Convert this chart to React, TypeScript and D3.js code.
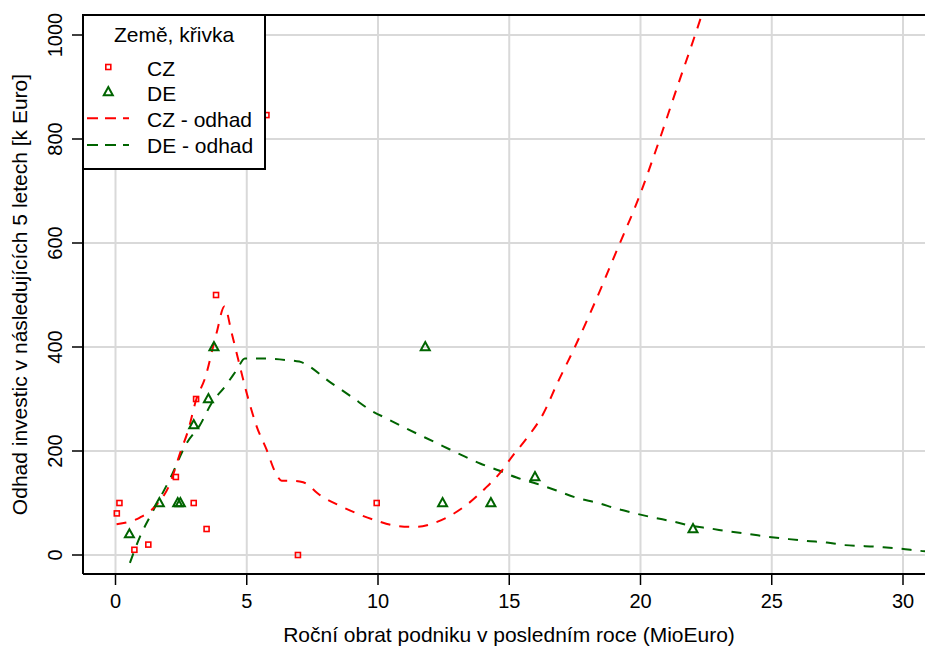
import React from "react";
import * as d3 from "d3";

const xTicks = [0, 5, 10, 15, 20, 25, 30];
const yTicks = [0, 200, 400, 600, 800, 1000];

const czX = [0.15, 0.05, 0.72, 1.25, 2.3, 2.98, 3.07, 3.47, 3.83, 5.75, 6.95, 9.95];
const czY = [100, 80, 10, 20, 150, 100, 300, 50, 500, 846, 0, 100];

const deX = [0.53, 1.67, 2.37, 2.47, 2.98, 3.54, 3.75, 11.8, 12.46, 14.3, 15.98, 22.0];
const deY = [40, 100, 100, 100, 250, 300, 400, 400, 100, 100, 150, 50];

const czFitX = [0.04, 0.93, 1.44, 2.08, 2.46, 2.77, 3.07, 3.41, 3.85, 4.15, 4.43, 4.68, 5.0, 5.38, 5.76, 6.08, 6.33, 6.7, 7.15, 7.79, 8.49, 9.19, 9.95, 10.71, 11.47, 12.1, 12.8, 13.44, 14.08, 14.65, 15.15, 15.66, 16.3, 16.8, 17.5, 18.3, 19.1, 19.95, 20.74, 21.4, 22.08, 22.6];
const czFitY = [59, 72, 90, 138, 196, 240, 298, 340, 427, 478, 426, 375, 311, 247, 202, 160, 143, 143, 140, 115, 96, 80, 66, 56, 54, 61, 77, 99, 128, 158, 192, 224, 272, 327, 400, 490, 586, 689, 801, 900, 1000, 1080];

const deFitX = [0.55, 0.93, 1.38, 2.08, 2.71, 3.22, 3.66, 4.17, 4.62, 4.93, 5.5, 6.5, 7.0, 8.24, 9.0, 9.7, 10.39, 11.09, 11.79, 12.49, 13.19, 13.89, 14.58, 15.28, 16.05, 16.8, 17.5, 18.46, 19.03, 19.72, 20.49, 21.19, 21.95, 22.65, 23.41, 24.17, 24.87, 25.57, 26.33, 27.1, 27.79, 28.55, 29.25, 29.95, 30.65, 31.5];
const deFitY = [-15, 35, 80, 147, 215, 250, 292, 324, 356, 378, 378, 375, 372, 330, 304, 279, 261, 243, 226, 209, 192, 176, 163, 149, 137, 124, 111, 99, 90, 81, 72, 65, 56, 51, 45, 40, 35, 31, 27, 24, 19, 17, 15, 12, 8, 5];

const legendTitle = "Země, křivka";
const legendLabels = ["CZ", "DE", "CZ - odhad", "DE - odhad"];
const xTitle = "Roční obrat podniku v posledním roce (MioEuro)";
const yTitle = "Odhad investic v následujících 5 letech [k Euro]";

const RED = "#ff0000";
const GREEN = "#006400";
const FONT = "Liberation Sans, Arial, sans-serif";

export default function App() {
  const W = 925, H = 646;
  const frame = { left: 83, top: 15, right: 935, bottom: 574 };
  const x = d3.scaleLinear().domain([0, 30]).range([115.5, 903]);
  const y = d3.scaleLinear().domain([0, 1000]).range([555, 35]);

  const line = d3.line<[number, number]>()
    .x((d) => x(d[0]))
    .y((d) => y(d[1]))
    .curve(d3.curveMonotoneX);

  const czFit = line(czFitX.map((v, i) => [v, czFitY[i]] as [number, number])) || "";
  const deFit = line(deFitX.map((v, i) => [v, deFitY[i]] as [number, number])) || "";

  const tri = (cx: number, cy: number, s: number) =>
    `M${cx},${cy - s * 0.55} L${cx + s * 0.5},${cy + s * 0.35} L${cx - s * 0.5},${cy + s * 0.35} Z`;

  return (
    <svg width={W} height={H} style={{ position: "absolute", left: 0, top: 0, background: "#fff" }} fontFamily={FONT}>
      <defs>
        <clipPath id="plotclip">
          <rect x={frame.left} y={frame.top} width={frame.right - frame.left} height={frame.bottom - frame.top} />
        </clipPath>
      </defs>
      <rect x={0} y={0} width={W} height={H} fill="#fff" />
      {/* grid */}
      <g stroke="#d9d9d9" strokeWidth={2}>
        {xTicks.map((t) => (
          <line key={"gx" + t} x1={x(t)} x2={x(t)} y1={frame.top} y2={frame.bottom} />
        ))}
        {yTicks.map((t) => (
          <line key={"gy" + t} x1={frame.left} x2={frame.right} y1={y(t)} y2={y(t)} />
        ))}
      </g>
      <g clipPath="url(#plotclip)">
        <path d={deFit} fill="none" stroke={GREEN} strokeWidth={2} strokeDasharray="10,9" />
        <path d={czFit} fill="none" stroke={RED} strokeWidth={2} strokeDasharray="10,9" />
        {czX.map((v, i) => (
          <rect key={"cz" + i} x={x(v) - 2.5} y={y(czY[i]) - 2.5} width={5} height={5} fill="none" stroke={RED} strokeWidth={1.6} />
        ))}
        {deX.map((v, i) => (
          <path key={"de" + i} d={tri(x(v), y(deY[i]), 9)} fill="none" stroke={GREEN} strokeWidth={2} />
        ))}
      </g>
      {/* frame */}
      <g stroke="#000" strokeWidth={2} fill="none">
        <line x1={frame.left} x2={frame.right} y1={frame.top} y2={frame.top} />
        <line x1={frame.left} x2={frame.right} y1={frame.bottom} y2={frame.bottom} />
        <line x1={frame.left} x2={frame.left} y1={frame.top} y2={frame.bottom} />
      </g>
      {/* x axis */}
      <g>
        {xTicks.map((t) => (
          <g key={"xt" + t}>
            <line x1={x(t)} x2={x(t)} y1={frame.bottom} y2={frame.bottom + 11} stroke="#000" strokeWidth={1.5} />
            <text x={x(t)} y={608} textAnchor="middle" fontSize={20} fill="#000">{t}</text>
          </g>
        ))}
        <text x={509} y={642} textAnchor="middle" fontSize={21} fill="#000">{xTitle}</text>
      </g>
      {/* y axis */}
      <g>
        {yTicks.map((t) => (
          <g key={"yt" + t}>
            <line x1={frame.left - 11} x2={frame.left} y1={y(t)} y2={y(t)} stroke="#000" strokeWidth={1.5} />
            <text transform={`translate(62,${y(t)}) rotate(-90)`} textAnchor="middle" fontSize={20} fill="#000">{t}</text>
          </g>
        ))}
        <text transform={`translate(27,294.5) rotate(-90)`} textAnchor="middle" fontSize={21} fill="#000">{yTitle}</text>
      </g>
      {/* legend */}
      <g>
        <rect x={83} y={15} width={182} height={154} fill="#fff" stroke="#000" strokeWidth={2} />
        <text x={174} y={42} textAnchor="middle" fontSize={21} fill="#000">{legendTitle}</text>
        <rect x={108.3 - 2.5} y={67 - 2.5} width={5} height={5} fill="none" stroke={RED} strokeWidth={1.6} />
        <path d={tri(108.3, 92, 9)} fill="none" stroke={GREEN} strokeWidth={2} />
        <line x1={87} x2={129} y1={118.3} y2={118.3} stroke={RED} strokeWidth={2} strokeDasharray="11,7" />
        <line x1={87} x2={129} y1={145} y2={145} stroke={GREEN} strokeWidth={2} strokeDasharray="11,7" />
        {legendLabels.map((l, i) => (
          <text key={l} x={147} y={[76, 101, 127, 153][i]} fontSize={21} fill="#000">{l}</text>
        ))}
      </g>
    </svg>
  );
}
